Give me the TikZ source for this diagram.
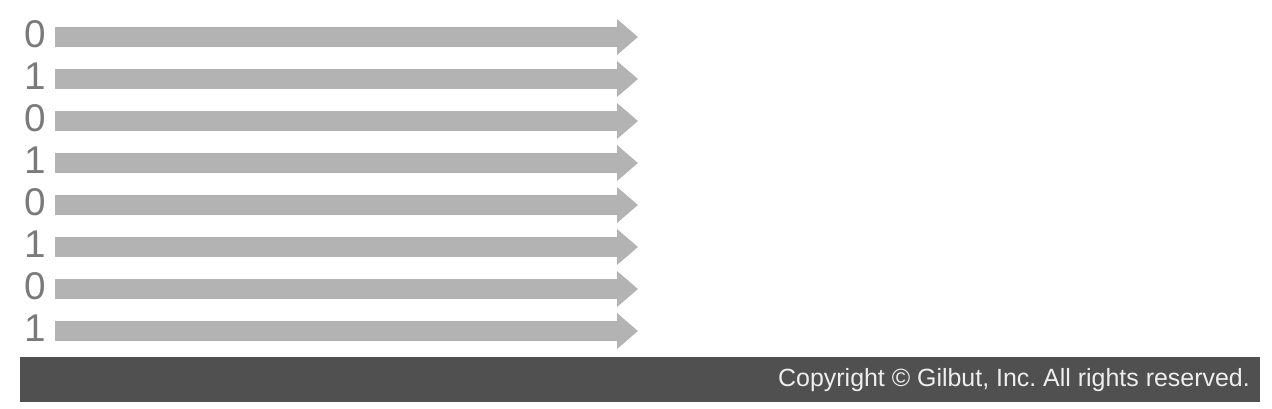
\documentclass[tikz,border=0pt]{standalone}
\usepackage{fontspec}
\setmainfont{Liberation Sans}
\usepackage{tikz}
\usetikzlibrary{arrows.meta}
\definecolor{bargray}{HTML}{B3B3B3}
\definecolor{bitgray}{HTML}{7A7A7A}
\definecolor{footgray}{HTML}{505050}
\definecolor{foottext}{HTML}{EEEEEE}
\frenchspacing

\begin{document}
\begin{tikzpicture}[x=0.75pt,y=-0.75pt,
  bitlabel/.style={anchor=east,inner xsep=6.5pt,inner ysep=0pt,yshift=2.25pt,text=bitgray,font=\fontsize{29}{29}\selectfont},
  bitarrow/.style={bargray,line width=15pt,-{Triangle[length=15.75pt,width=26pt]}}]
\useasboundingbox (0,0) rectangle (1272,408);
\foreach \b [count=\i from 0] in {0,1,0,1,0,1,0,1} {
  \pgfmathsetmacro\yy{37+\i*42}
  \node[bitlabel] (bit\i) at (55,\yy) {\b};
  \coordinate (end\i) at (638,\yy);
  \draw[bitarrow] (bit\i.east |- end\i) -- (end\i);
}
\fill[footgray] (20,357) rectangle (1260,402);
\node[anchor=base east,inner sep=0pt,text=foottext,font=\fontsize{18.7}{20}\selectfont] (copy) at (1250,386) {Copyright \textcopyright{} Gilbut, Inc. All rights reserved.};
\end{tikzpicture}
\end{document}
